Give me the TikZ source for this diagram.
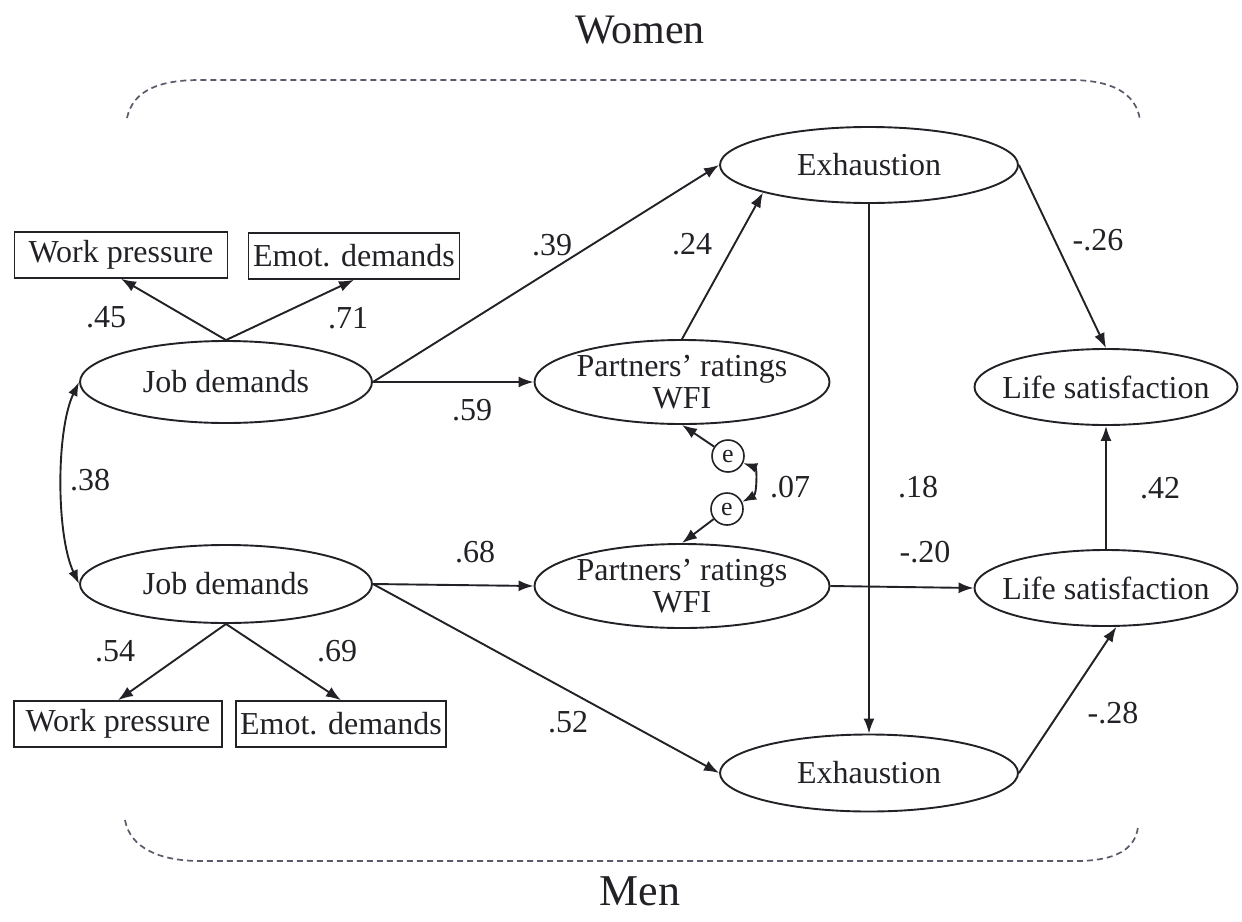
\documentclass[tikz,border=0pt]{standalone}
\usepackage{fontspec}
\setmainfont{Liberation Serif}
\usetikzlibrary{arrows.meta,shapes.geometric}
\definecolor{ink}{RGB}{35,32,38}
\definecolor{dashc}{RGB}{95,88,105}
\begin{document}
\begin{tikzpicture}[x=1pt,y=-1pt,
  every node/.style={text=ink},
  font=\fontsize{32}{32}\selectfont,
  lat/.style={draw=ink,ellipse,line width=1.9pt,inner xsep=-30pt,inner ysep=-10pt},
  obs/.style={draw=ink,rectangle,line width=1.6pt,minimum height=46pt,inner sep=0pt},
  enode/.style={draw=ink,circle,line width=1.6pt,minimum size=32pt,inner sep=0pt,font=\fontsize{26}{26}\selectfont},
  lbl/.style={inner sep=0pt},
  conn/.style={draw=ink,line width=1.9pt,-{Latex[length=15pt,width=11pt]}},
  dconn/.style={draw=ink,line width=1.9pt,{Latex[length=14pt,width=10pt]}-{Latex[length=14pt,width=10pt]}},
  group/.style={draw=dashc,line width=1.7pt,dash pattern=on 6pt off 4pt}
]
\useasboundingbox (0,0) rectangle (1242,921);

% titles
\node[lbl,font=\fontsize{42}{42}\selectfont] (women) at (640,30) {Women};
\node[lbl,font=\fontsize{44}{44}\selectfont] (men) at (640,891) {Men};

% group brackets
\draw[group] (127,118) .. controls (133,90) and (160,80) .. (200,80) -- (1070,80) .. controls (1110,80) and (1136,92) .. (1140,120);
\draw[group] (125,820) .. controls (130,848) and (160,861) .. (200,861) -- (1080,861) .. controls (1115,860) and (1135,850) .. (1138,827);

% nodes
\node[lat,minimum width=298pt,minimum height=76pt] (ext) at (869,165) {Exhaustion};
\node[obs,minimum width=213pt] (wpt) at (121,255) {Work pressure};
\node[obs,minimum width=211pt] (edt) at (354,256) {Emot. demands};
\node[lat,minimum width=292pt,minimum height=82pt] (jdt) at (226,382) {Job demands};
\node[lat,minimum width=295pt,minimum height=84pt,align=center] (pt) at (682,382) {Partners' ratings\\WFI};
\node[lat,minimum width=263pt,minimum height=76pt] (lst) at (1106,387) {Life satisfaction};
\node[enode] (ea) at (728,456) {e};
\node[enode] (eb) at (727,509) {e};
\node[lat,minimum width=292pt,minimum height=78pt] (jdb) at (226,584) {Job demands};
\node[lat,minimum width=295pt,minimum height=84pt,align=center] (pb) at (682,586) {Partners' ratings\\WFI};
\node[lat,minimum width=263pt,minimum height=76pt] (lsb) at (1106,588) {Life satisfaction};
\node[obs,minimum width=208pt] (wpb) at (118,724) {Work pressure};
\node[obs,minimum width=210pt] (edb) at (341,724) {Emot. demands};
\node[lat,minimum width=298pt,minimum height=77pt] (exb) at (869,773) {Exhaustion};

% connectors
\draw[conn] (jdt.east) -- (ext.west);
\draw[conn] (jdt.east) -- (pt.west);
\draw[conn] (jdt.north) -- (wpt.south);
\draw[conn] (jdt.north) -- (edt.south);
\draw[conn] (pt.north) -- (ext.south west);
\draw[conn] (ext.east) -- (lst.north);
\draw[conn] (ext.south) -- (exb.north);
\draw[conn] (lsb.north) -- (lst.south);
\draw[conn] (pb.east) -- (lsb.west);
\draw[conn] (jdb.east) -- (pb.west);
\draw[conn] (jdb.east) -- (exb.west);
\draw[conn] (exb.east) -- (lsb.-75);
\draw[conn] (jdb.south) -- (wpb.north);
\draw[conn] (jdb.south) -- (edb.north);
\draw[conn] (ea) -- (pt.south);
\draw[conn] (eb) -- (pb.north);
\draw[dconn] (jdt.west) .. controls (56,430) and (56,535) .. (jdb.west);
\draw[dconn] (ea.-25) .. controls (757,468) and (757,494) .. (eb.25);

% labels
\node[lbl] (l39) at (552,245) {.39};
\node[lbl] (l59) at (472,410) {.59};
\node[lbl] (l45) at (106,317) {.45};
\node[lbl] (l71) at (348,318) {.71};
\node[lbl] (l24) at (692,244) {.24};
\node[lbl] (l26) at (1098,240) {-.26};
\node[lbl] (l38) at (90,480) {.38};
\node[lbl] (l07) at (790,487) {.07};
\node[lbl] (l18) at (918,487) {.18};
\node[lbl] (l42) at (1160,488) {.42};
\node[lbl] (l68) at (475,552) {.68};
\node[lbl] (l20) at (925,552) {-.20};
\node[lbl] (l54) at (115,651) {.54};
\node[lbl] (l69) at (337,651) {.69};
\node[lbl] (l52) at (568,722) {.52};
\node[lbl] (l28) at (1113,713) {-.28};
\end{tikzpicture}
\end{document}
